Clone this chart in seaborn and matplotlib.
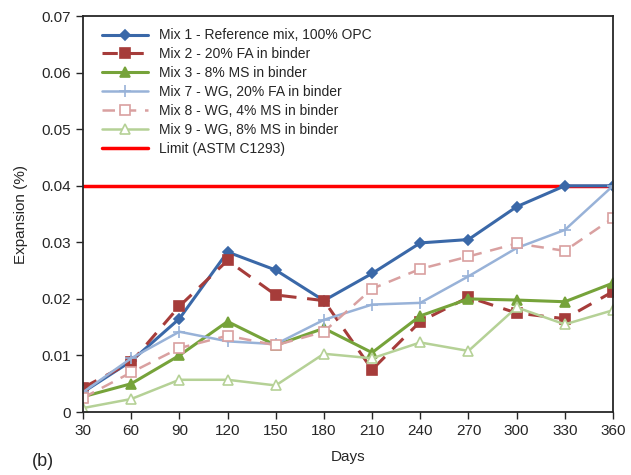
import numpy as np
import pandas as pd
import matplotlib.pyplot as plt
import seaborn as sns

days = [30, 60, 90, 120, 150, 180, 210, 240, 270, 300, 330, 360]
mix1 = [0.0035, 0.0090, 0.0165, 0.0283, 0.0251, 0.0197, 0.0245, 0.0299, 0.0305, 0.0363, 0.0400, 0.0400]
mix2 = [0.0043, 0.0088, 0.0187, 0.0268, 0.0207, 0.0197, 0.0075, 0.0160, 0.0203, 0.0175, 0.0165, 0.0213]
mix3 = [0.0027, 0.0050, 0.0100, 0.0160, 0.0118, 0.0148, 0.0105, 0.0170, 0.0200, 0.0198, 0.0195, 0.0228]
mix7 = [0.0035, 0.0095, 0.0142, 0.0125, 0.0120, 0.0163, 0.0190, 0.0193, 0.0240, 0.0290, 0.0322, 0.0400]
mix8 = [0.0025, 0.0070, 0.0113, 0.0135, 0.0118, 0.0142, 0.0218, 0.0253, 0.0275, 0.0298, 0.0285, 0.0343]
mix9 = [0.0007, 0.0023, 0.0057, 0.0057, 0.0047, 0.0103, 0.0095, 0.0123, 0.0108, 0.0185, 0.0155, 0.0180]
limit = 0.04

names = ["Mix 1 - Reference mix, 100% OPC", "Mix 2 - 20% FA in binder",
         "Mix 3 - 8% MS in binder", "Mix 7 - WG, 20% FA in binder",
         "Mix 8 - WG, 4% MS in binder", "Mix 9 - WG, 8% MS in binder"]

sns.set_style("ticks")
plt.rcParams['font.family'] = ['Liberation Sans', 'DejaVu Sans']

fig = plt.figure(figsize=(6.31, 4.75), dpi=100)
ax = fig.add_axes([0.1315, 0.1326, 0.84, 0.8334])

# color, marker, dashed, filled, linewidth, markersize
styles = [
    ("#3A68A8", "D", False, True, 2.2, 5),
    ("#A63C3A", "s", True, True, 2.2, 7),
    ("#76A33A", "^", False, True, 2.2, 7),
    ("#98B2D8", "+", False, True, 1.8, 8),
    ("#D9A0A0", "s", True, False, 1.8, 7),
    ("#B5D196", "^", False, False, 1.8, 7),
]
series = [mix1, mix2, mix3, mix7, mix8, mix9]

for name, vals, (c, m, dashed, filled, lw, ms) in zip(names, series, styles):
    df = pd.DataFrame({"Days": days, "Expansion": vals})
    sns.lineplot(data=df, x="Days", y="Expansion", ax=ax, color=c, lw=lw,
                 marker=m, markersize=ms, label=name,
                 linestyle=(0, (5, 3.5)) if dashed else "-",
                 markerfacecolor=c if filled else "white",
                 markeredgecolor=c, markeredgewidth=1.2)

ax.axhline(limit, color="#FF0000", lw=2.5, label="Limit (ASTM C1293)", zorder=1)

ax.set_xlim(30, 360)
ax.set_ylim(0, 0.07)
ax.set_xticks(days)
ax.set_yticks(np.arange(0, 0.071, 0.01))
ax.set_yticklabels(["0", "0.01", "0.02", "0.03", "0.04", "0.05", "0.06", "0.07"])
ax.tick_params(labelsize=11, direction="out", length=5, width=1)
ax.set_xlabel("Days", fontsize=11, labelpad=9)
ax.set_ylabel("Expansion (%)", fontsize=11, labelpad=10)
for s in ax.spines.values():
    s.set_linewidth(1.3)

ax.legend(loc="upper left", frameon=False, fontsize=10, handlelength=3.3,
          labelspacing=0.35, bbox_to_anchor=(0.02, 0.99), borderaxespad=0.2)

fig.text(0.05, 0.02, "(b)", fontsize=13)

plt.savefig("out.png", dpi=100)
